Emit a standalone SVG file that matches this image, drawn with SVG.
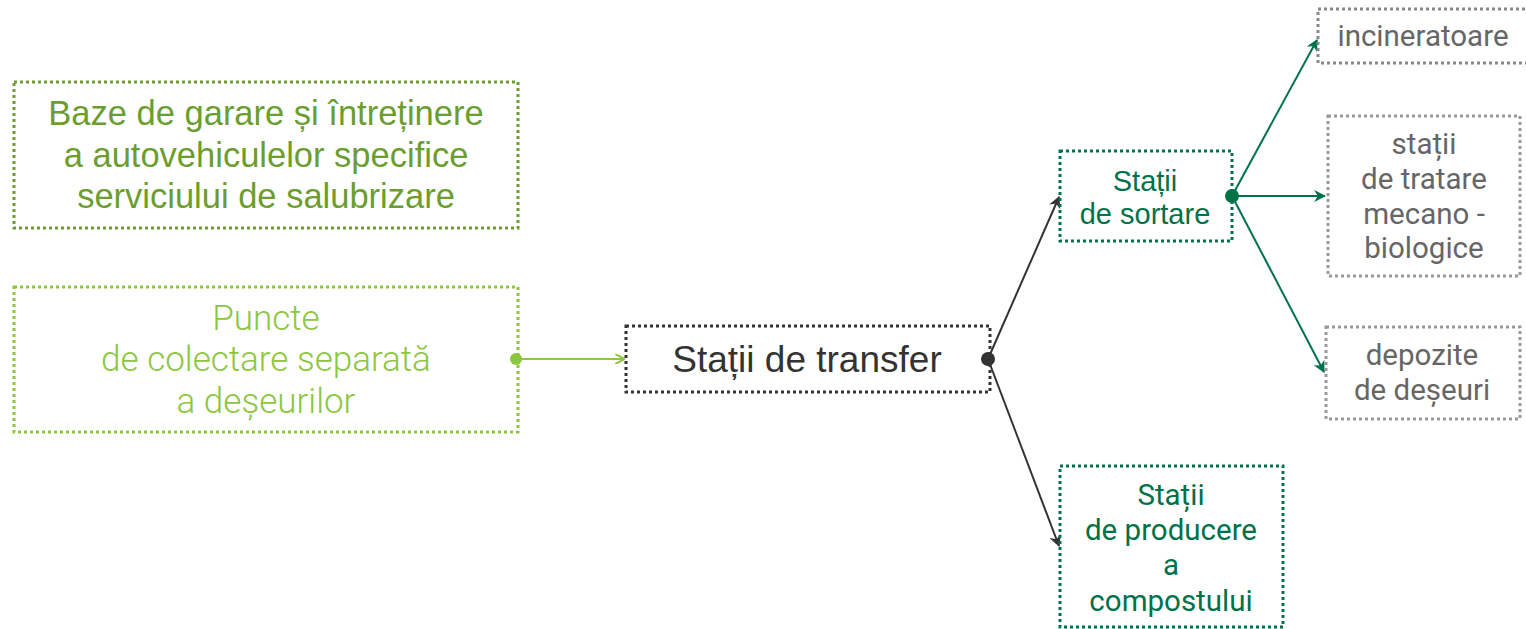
<svg xmlns="http://www.w3.org/2000/svg" width="1526" height="629" viewBox="0 0 1526 629">
<style>
.box{fill:none;stroke-width:3;stroke-dasharray:3 3}
.arial{font-family:"Liberation Sans",Arial,sans-serif;text-anchor:middle}
.rob{font-family:Roboto,"Liberation Sans",sans-serif;text-anchor:middle}
</style>
<defs>
<marker id="ag" viewBox="0 0 10 10" refX="9" refY="5" markerWidth="10" markerHeight="10" markerUnits="userSpaceOnUse" orient="auto"><path d="M0,0 L10,5 L0,10" fill="none" stroke="#8dc63f" stroke-width="2"/></marker>
<marker id="ak" viewBox="0 0 10 10" refX="9" refY="5" markerWidth="12" markerHeight="12" markerUnits="userSpaceOnUse" orient="auto"><path d="M0,0 L10,5 L0,10 L3,5 Z" fill="#333"/></marker>
<marker id="ad" viewBox="0 0 10 10" refX="9" refY="5" markerWidth="12" markerHeight="12" markerUnits="userSpaceOnUse" orient="auto"><path d="M0,0 L10,5 L0,10 L3,5 Z" fill="#007249"/></marker>
</defs>
<rect width="1526" height="629" fill="#fff"/>
<g id="connectors">
<line x1="516" y1="359" x2="624" y2="359" stroke="#8dc63f" stroke-width="2" marker-end="url(#ag)"/>
<circle cx="516" cy="359" r="6" fill="#8dc63f"/>
<line x1="988" y1="359" x2="1059" y2="197" stroke="#333" stroke-width="2" marker-end="url(#ak)"/>
<line x1="988" y1="359" x2="1059" y2="546" stroke="#333" stroke-width="2" marker-end="url(#ak)"/>
<circle cx="988" cy="359" r="7" fill="#333"/>
<line x1="1232" y1="196" x2="1317" y2="40" stroke="#007249" stroke-width="2" marker-end="url(#ad)"/>
<line x1="1232" y1="196" x2="1325" y2="196" stroke="#007249" stroke-width="2" marker-end="url(#ad)"/>
<line x1="1232" y1="196" x2="1324" y2="372" stroke="#007249" stroke-width="2" marker-end="url(#ad)"/>
<circle cx="1232" cy="196" r="7" fill="#007249"/>
</g>
<g id="baze">
<rect class="box" x="14" y="82" width="504" height="146" stroke="#6b9d30"/>
<text class="arial" font-size="34.5" fill="#6b9d30"><tspan x="266" y="125">Baze de garare și întreținere</tspan><tspan x="266" y="167">a autovehiculelor specifice</tspan><tspan x="266" y="208">serviciului de salubrizare</tspan></text>
</g>
<g id="puncte">
<rect class="box" x="14" y="287" width="504" height="145" stroke="#8dc63f"/>
<text class="rob" font-size="35" fill="#8dc63f" font-weight="300"><tspan x="266" y="330">Puncte</tspan><tspan x="266" y="371">de colectare separată</tspan><tspan x="266" y="413">a deșeurilor</tspan></text>
</g>
<g id="transfer">
<rect class="box" x="626" y="326" width="364" height="66" stroke="#333"/>
<text class="arial" x="807" y="372" font-size="37" fill="#333">Stații de transfer</text>
</g>
<g id="sortare">
<rect class="box" x="1060" y="151" width="172" height="90" stroke="#007249"/>
<text class="arial" font-size="29" fill="#007249"><tspan x="1145" y="191">Stații</tspan><tspan x="1145" y="224">de sortare</tspan></text>
</g>
<g id="incineratoare">
<rect class="box" x="1318" y="9" width="210" height="54" stroke="#888"/>
<text class="rob" x="1423" y="46" font-size="29.5" fill="#666">incineratoare</text>
</g>
<g id="tratare">
<rect class="box" x="1328" y="116" width="192" height="160" stroke="#999"/>
<text class="rob" font-size="29.5" fill="#666"><tspan x="1424" y="154">stații</tspan><tspan x="1424" y="189">de tratare</tspan><tspan x="1424" y="224">mecano -</tspan><tspan x="1424" y="258">biologice</tspan></text>
</g>
<g id="depozite">
<rect class="box" x="1326" y="327" width="194" height="92" stroke="#999"/>
<text class="rob" font-size="29.5" fill="#666"><tspan x="1422" y="365">depozite</tspan><tspan x="1422" y="400">de deșeuri</tspan></text>
</g>
<g id="compost">
<rect class="box" x="1060" y="466" width="223" height="161" stroke="#007249"/>
<text class="rob" font-size="29.5" fill="#007249"><tspan x="1171" y="505">Stații</tspan><tspan x="1171" y="540">de producere</tspan><tspan x="1171" y="575">a</tspan><tspan x="1171" y="611">compostului</tspan></text>
</g>
</svg>
